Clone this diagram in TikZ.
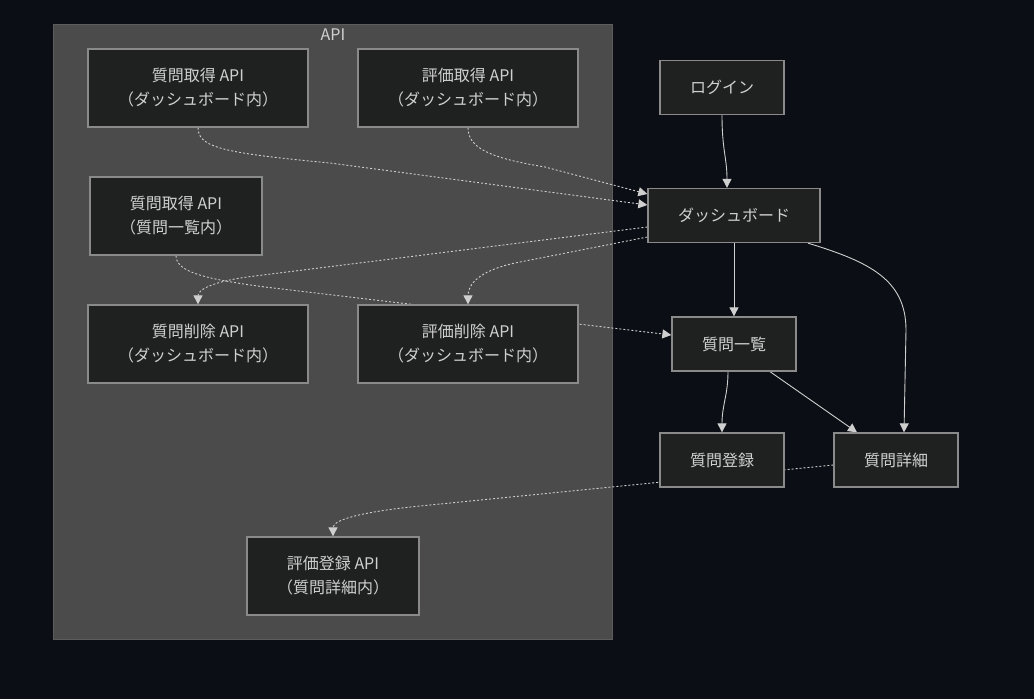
\documentclass[tikz,border=0pt]{standalone}
\usepackage{fontspec}
\newfontfamily\jpfont{Noto Sans CJK JP}
\usepackage{tikz}
\usetikzlibrary{arrows.meta}
\definecolor{bgdark}{HTML}{0B0E14}
\definecolor{clusterfill}{HTML}{4A4B4A}
\definecolor{clusterline}{HTML}{5C5C5C}
\definecolor{boxfill}{HTML}{1F2020}
\definecolor{boxline}{HTML}{8A8A8A}
\definecolor{inktext}{HTML}{D0D0D0}
\definecolor{edgeink}{HTML}{CFCFCF}
\pgfdeclarelayer{back}
\pgfdeclarelayer{edges}
\pgfsetlayers{back,edges,main}

\begin{document}
\begin{tikzpicture}[x=1pt,y=-1pt,
    box/.style={draw=boxline,fill=boxfill,line width=1.3pt,text=inktext,align=center,
      inner sep=0pt,font=\jpfont\fontsize{16}{24}\selectfont},
    wide/.style={box,minimum width=220pt,minimum height=78pt},
    narrow/.style={box,minimum width=172pt,minimum height=78pt},
    page/.style={box,minimum width=124pt,minimum height=54pt},
    flow/.style={draw=edgeink,line width=0.9pt,-{Triangle[length=9pt,width=9pt]}},
    call/.style={flow,dash pattern=on 2pt off 2pt}]
            \useasboundingbox (0,0) rectangle (1034,699);
            \begin{pgfonlayer}{back}
            \fill[bgdark] (0,0) rectangle (1034,699);
            \filldraw[fill=clusterfill,draw=clusterline,line width=1pt] (53,24) rectangle (612,639);
            \end{pgfonlayer}
            \node[text=inktext,font=\jpfont\fontsize{16}{18}\selectfont] (api_label) at (333,35) {API};

            \node[wide] (qget_dash) at (198,88) {質問取得 API\\（ダッシュボード内）};
            \node[wide] (eget_dash) at (468,88) {評価取得 API\\（ダッシュボード内）};
            \node[narrow] (qget_list) at (176,216) {質問取得 API\\（質問一覧内）};
            \node[wide] (qdel_dash) at (198,344) {質問削除 API\\（ダッシュボード内）};
            \node[wide] (edel_dash) at (468,344) {評価削除 API\\（ダッシュボード内）};
            \node[narrow] (ereg_detail) at (333,576) {評価登録 API\\（質問詳細内）};

            \node[page] (login) at (722,87.5) {ログイン};
            \node[box,minimum width=172pt,minimum height=54pt] (dash) at (734,215.5) {ダッシュボード};
            \node[page] (qlist) at (734,344) {質問一覧};
            \node[page] (qreg) at (722,460) {質問登録};
            \node[page] (qdetail) at (896,460) {質問詳細};

            \begin{pgfonlayer}{edges}
            \draw[flow] (login.south) .. controls (722,150) and (727,158) .. ([xshift=-7pt]dash.north);
            \draw[flow] (dash.south) -- (qlist.north);
            \draw[flow] ([xshift=74pt]dash.south) .. controls (870,262) and (906,280) .. (906,330) -- ([xshift=8pt]qdetail.north);
            \draw[flow] ([xshift=-6pt]qlist.south) .. controls (728,395) and (722,405) .. (qreg.north);
            \draw[flow] ([xshift=36pt]qlist.south) -- ([xshift=-39pt]qdetail.north);

            \draw[call] (qget_dash.south) .. controls (198,148) and (225,153) .. (330,163) -- ([yshift=10.5pt]dash.west);
            \draw[call] (eget_dash.south) .. controls (468,148) and (490,158) .. (545,167) -- ([yshift=21.5pt]dash.west);
            \draw[call] ([yshift=-11.5pt]dash.west) -- (255,276) .. controls (212,281) and (198,290) .. (qdel_dash.north);
            \draw[call] ([yshift=-21.5pt]dash.west) -- (515,263) .. controls (478,271) and (468,285) .. (edel_dash.north);
            \draw[call] (qget_list.south) .. controls (176,272) and (205,279) .. (265,287) -- ([yshift=9pt]qlist.west);
            \draw[call] ([yshift=-5pt]qdetail.west) -- (420,506) .. controls (360,512) and (333,520) .. (ereg_detail.north);
            \end{pgfonlayer}

        \end{tikzpicture}
\end{document}
